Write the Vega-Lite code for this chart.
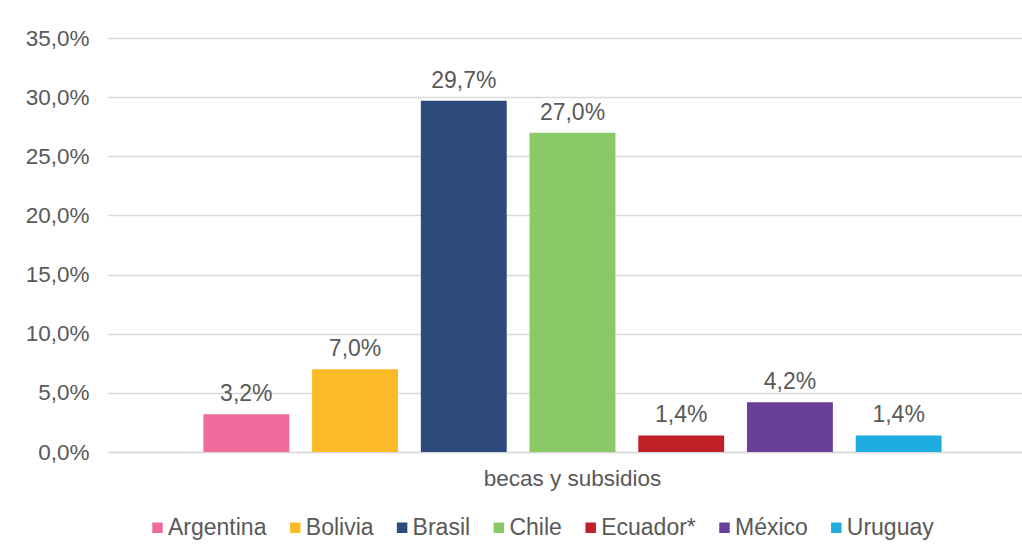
{
  "$schema": "https://vega.github.io/schema/vega-lite/v6.json",
  "autosize": {"type": "none"},
  "padding": {"left": 108, "top": 38, "right": 0, "bottom": 95},
  "width": 914,
  "height": 414,
  "background": "white",
  "config": {
    "locale": {"number": {"decimal": ",", "thousands": ".", "grouping": [3], "currency": ["", " €"]}},
    "font": "Liberation Sans",
    "view": {"stroke": null}
  },
  "data": {
    "values": [
      {"categoria": "becas y subsidios", "pais": "Argentina", "valor": 0.032},
      {"categoria": "becas y subsidios", "pais": "Bolivia", "valor": 0.070},
      {"categoria": "becas y subsidios", "pais": "Brasil", "valor": 0.297},
      {"categoria": "becas y subsidios", "pais": "Chile", "valor": 0.270},
      {"categoria": "becas y subsidios", "pais": "Ecuador*", "valor": 0.014},
      {"categoria": "becas y subsidios", "pais": "México", "valor": 0.042},
      {"categoria": "becas y subsidios", "pais": "Uruguay", "valor": 0.014}
    ]
  },
  "encoding": {
    "x": {
      "field": "categoria", "type": "nominal", "title": null,
      "scale": {"paddingInner": 0, "paddingOuter": 0.1005, "align": 0.549},
      "axis": {"labelAngle": 0, "labelFontSize": 22.5, "labelColor": "#595959", "ticks": false, "domainColor": "#d9d9d9", "domainWidth": 1.5, "labelPadding": 15}
    },
    "xOffset": {
      "field": "pais", "type": "nominal",
      "sort": ["Argentina", "Bolivia", "Brasil", "Chile", "Ecuador*", "México", "Uruguay"],
      "scale": {"paddingInner": 0.21, "paddingOuter": 0.105}
    },
    "y": {
      "field": "valor", "type": "quantitative", "title": null,
      "scale": {"domain": [0, 0.35]},
      "axis": {"values": [0, 0.05, 0.1, 0.15, 0.2, 0.25, 0.3, 0.35], "format": ".1%", "labelFontSize": 22.5, "labelColor": "#595959", "ticks": false, "domain": false, "gridColor": "#d9d9d9", "gridWidth": 1.5, "labelPadding": 19}
    }
  },
  "layer": [
    {
      "mark": {"type": "bar"},
      "encoding": {
        "color": {
          "field": "pais", "type": "nominal",
          "sort": ["Argentina", "Bolivia", "Brasil", "Chile", "Ecuador*", "México", "Uruguay"],
          "scale": {
            "domain": ["Argentina", "Bolivia", "Brasil", "Chile", "Ecuador*", "México", "Uruguay"],
            "range": ["#F06B9B", "#FDBA27", "#2C4A7C", "#8BC866", "#C02028", "#6A3F97", "#1FACE1"]
          },
          "legend": {
            "title": null, "orient": "none", "direction": "horizontal",
            "legendX": 38, "legendY": 478,
            "symbolType": "square", "symbolSize": 110, "symbolStrokeWidth": 0,
            "labelFontSize": 23, "labelColor": "#595959", "labelOffset": -1,
            "columnPadding": 16.8, "labelLimit": 300
          }
        }
      }
    },
    {
      "mark": {"type": "text", "baseline": "alphabetic", "dy": -13, "fontSize": 23, "color": "#595959"},
      "encoding": {
        "text": {"field": "valor", "type": "quantitative", "format": ".1%"}
      }
    }
  ]
}
